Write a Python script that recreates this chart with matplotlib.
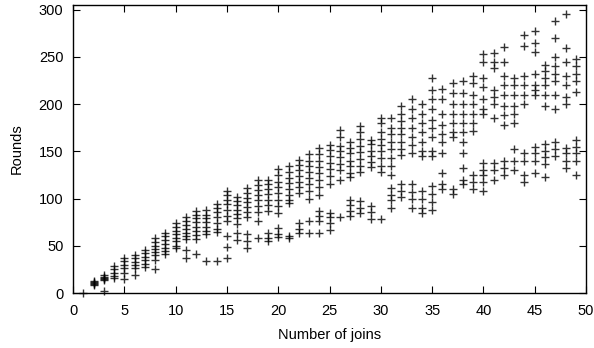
import numpy as np
import matplotlib.pyplot as plt

plt.rcParams['font.family'] = ['Liberation Sans', 'DejaVu Sans']

# number of joins (x) and the measured rounds at each, split into the two bands
joins = list(range(1, 50))
upper_rounds = [
    [0],
    [9, 10, 11, 12, 13],
    [14, 15, 16, 17, 19],
    [16, 18, 21, 25, 29],
    [21, 26, 30, 34, 37],
    [26, 30, 33, 37, 40],
    [28, 31, 35, 38, 42, 46],
    [35, 40, 43, 47, 50, 54, 58],
    [41, 44, 48, 52, 56, 60, 64],
    [48, 50, 55, 58, 62, 66, 70, 74],
    [57, 60, 64, 68, 72, 76, 80],
    [57, 61, 66, 70, 75, 79, 83, 87],
    [62, 66, 70, 75, 79, 83, 88],
    [65, 68, 74, 80, 86, 90, 94],
    [76, 82, 88, 94, 99, 104, 108],
    [73, 79, 84, 88, 93, 97, 102],
    [80, 86, 91, 96, 101, 106, 111],
    [76, 86, 92, 98, 104, 109, 114, 120],
    [87, 93, 99, 105, 110, 115, 120],
    [85, 92, 98, 106, 112, 118, 125, 131],
    [95, 98, 104, 110, 116, 122, 128, 134],
    [106, 112, 118, 124, 130, 136, 141],
    [100, 108, 115, 122, 128, 134, 140, 147],
    [104, 112, 120, 127, 133, 140, 147, 154],
    [115, 124, 131, 138, 145, 151, 157],
    [120, 130, 137, 144, 150, 156, 165, 173],
    [123, 127, 134, 140, 148, 154, 160],
    [128, 135, 142, 149, 156, 163, 170, 177],
    [133, 139, 145, 150, 158, 162],
    [128, 135, 143, 150, 157, 163, 170, 180, 185],
    [125, 135, 143, 152, 160, 168, 175, 185],
    [146, 152, 160, 168, 175, 182, 190, 198],
    [148, 157, 165, 175, 185, 195, 205],
    [145, 150, 160, 170, 180, 190, 200],
    [145, 150, 165, 175, 183, 195, 205, 215, 228],
    [148, 160, 168, 178, 190, 205, 216],
    [165, 170, 180, 190, 200, 212, 222],
    [148, 160, 170, 180, 190, 200, 212, 225],
    [172, 180, 190, 200, 210, 222, 230],
    [190, 195, 205, 218, 228, 245, 253],
    [185, 200, 208, 215, 238, 245, 254],
    [178, 188, 198, 210, 220, 230, 245, 261],
    [180, 190, 198, 210, 220, 228],
    [200, 210, 220, 230, 262, 273],
    [210, 215, 220, 232, 255, 265, 277],
    [198, 210, 220, 228, 235, 242],
    [195, 210, 225, 232, 240, 250, 270, 288],
    [200, 208, 220, 230, 245, 260, 295],
    [213, 225, 232, 240, 248],
]
lower_rounds = [
    [], [], [2], [], [15], [19], [], [25], [], [],
    [37, 46], [41], [34], [34], [37, 49, 60], [56, 64], [48, 55, 62], [58], [55, 58, 64], [59, 63, 69],
    [58, 60], [64, 68, 74], [64, 76], [64, 76, 82, 87], [67, 74, 80, 85], [81], [82, 87, 93, 99], [85, 90, 97], [78, 86, 92], [78],
    [90, 98, 104, 111], [102, 108, 115], [90, 100, 107, 115], [85, 90, 100, 108], [88, 96, 105, 113], [110, 115, 127], [105, 110], [115, 120, 132], [110, 118, 125], [108, 118, 125, 130, 138],
    [120, 130, 138], [125, 132, 140], [130, 140, 153], [118, 125, 140, 148], [127, 140, 148, 155], [123, 137, 144, 150, 158], [145, 153, 160], [132, 140, 148, 154], [125, 140, 148, 155, 162],
]

xs, ys = [], []
for j, up, lo in zip(joins, upper_rounds, lower_rounds):
    for r in up + lo:
        xs.append(j)
        ys.append(r)

fig = plt.figure(figsize=(5.94, 3.48), dpi=100)
ax = fig.add_axes([0.123, 0.158, 0.8636, 0.8276])
ax.plot(xs, ys, '+', color='k', alpha=0.8, markersize=5.5, markeredgewidth=1.0,
        clip_on=False, zorder=3)

ax.set_xlim(0, 50)
ax.set_ylim(0, 305)
ax.set_xticks(np.arange(0, 51, 5))
ax.set_yticks(np.arange(0, 301, 50))
ax.tick_params(direction='in', top=True, right=True, length=5, width=0.8, labelsize=10.5)
ax.tick_params(axis='y', pad=7)
ax.tick_params(axis='x', pad=8)
for s in ax.spines.values():
    s.set_linewidth(1.0)
ax.set_xlabel('Number of joins', fontsize=10.5, labelpad=7)
ax.set_ylabel('Rounds', fontsize=10.5, labelpad=11)

fig.savefig('out.png', dpi=100)
